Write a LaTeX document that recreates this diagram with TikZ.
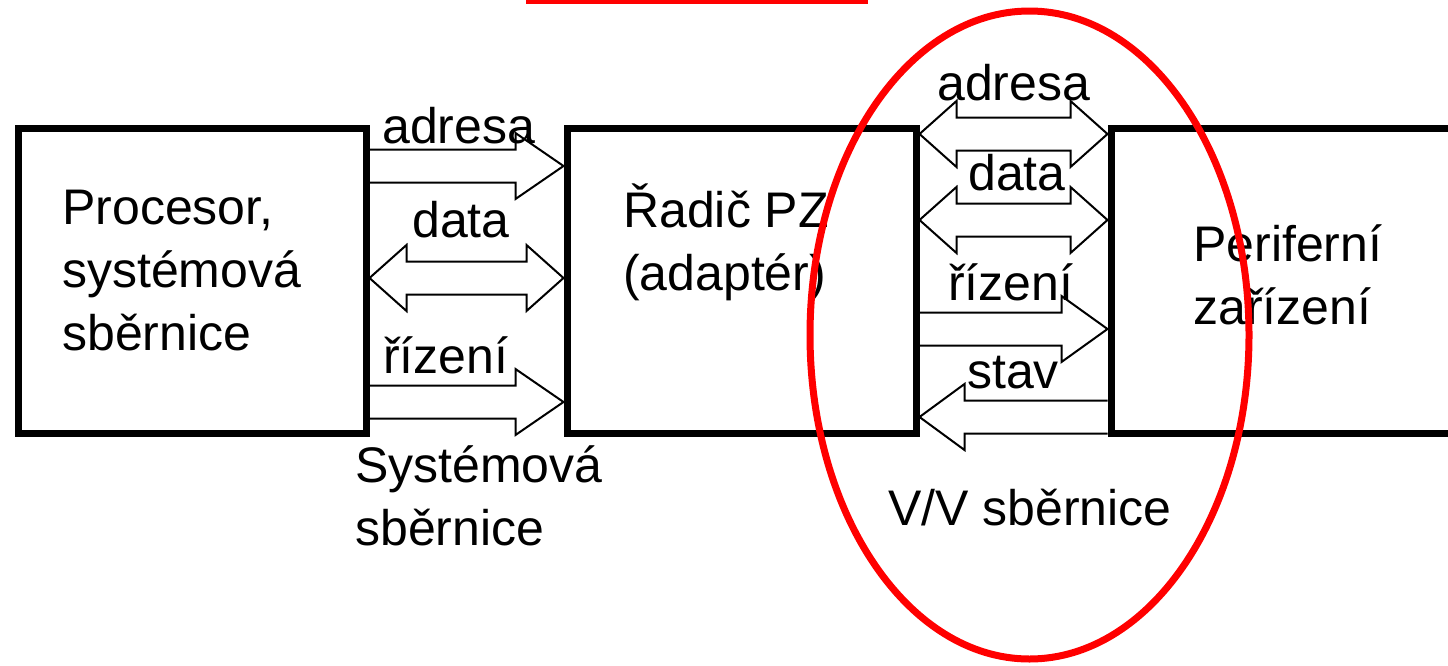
\documentclass[tikz,border=0pt]{standalone}
\usepackage{fontspec}
\setmainfont{Liberation Sans}
\usetikzlibrary{calc}
\newcommand\singlebar[4]{% #1 tail node anchor, #2 tip node anchor, #3 y, #4 head length
  \coordinate (yy) at (0,#3);
  \coordinate (tl) at (#1 |- yy);
  \coordinate (tp) at (#2 |- yy);
  \coordinate (hb) at ($(tp)!#4!(tl)$);
  \draw[barrow] ($(tl)+(0,-16.5)$) -- ($(hb)+(0,-16.5)$) -- ($(hb)+(0,-33)$) -- (tp)
    -- ($(hb)+(0,33)$) -- ($(hb)+(0,16.5)$) -- ($(tl)+(0,16.5)$);
}
\newcommand\doublebar[4]{% #1 left tip node anchor, #2 right tip node anchor, #3 y, #4 head length
  \coordinate (yy) at (0,#3);
  \coordinate (ta) at (#1 |- yy);
  \coordinate (tb) at (#2 |- yy);
  \coordinate (ha) at ($(ta)!#4!(tb)$);
  \coordinate (hc) at ($(tb)!#4!(ta)$);
  \draw[barrow] (ta) -- ($(ha)+(0,-33)$) -- ($(ha)+(0,-16.5)$) -- ($(hc)+(0,-16.5)$)
    -- ($(hc)+(0,-33)$) -- (tb) -- ($(hc)+(0,33)$) -- ($(hc)+(0,16.5)$)
    -- ($(ha)+(0,16.5)$) -- ($(ha)+(0,33)$) -- cycle;
}
\begin{document}
\begin{tikzpicture}[x=1pt,y=-1pt,
  box/.style={draw, line width=7pt, rectangle, anchor=north west, inner sep=0pt, minimum height=305pt},
  barrow/.style={draw, line width=2pt, line join=miter},
  lbl/.style={anchor=base west, inner sep=0pt, align=left, font=\fontsize{50}{63}\selectfont},
  redring/.style={draw=red, line width=7pt}]
\useasboundingbox (0,0) rectangle (1448,665);
\clip (0,0) rectangle (1448,665);

\node[box, minimum width=348pt] (L) at (14.5,124.5) {};
\node[box, minimum width=349pt] (M) at (563.5,124.5) {};
\node[box, minimum width=370pt] (R) at (1107.5,124.5) {};

% multi-line labels: base anchor is the baseline of the last line
\node[lbl] (tL) at (62,350) {Procesor,\\systémová\\sběrnice};
\node[lbl] (tM) at (623,290) {Řadič PZ\\(adaptér)};
\node[lbl] (tR) at (1193,324) {Periferní\\zařízení};

% system bus arrows
\singlebar{L.east}{M.west}{166}{48pt}
\doublebar{L.east}{M.west}{278}{37pt}
\singlebar{L.east}{M.west}{402}{48pt}

% I/O bus arrows
\doublebar{M.east}{R.west}{134}{37pt}
\doublebar{M.east}{R.west}{220}{37pt}
\singlebar{M.east}{R.west}{329}{46pt}
\singlebar{R.west}{M.east}{417}{45pt}

\node[lbl] (la1) at (382,143) {adresa};
\node[lbl] (ld1) at (412,237) {data};
\node[lbl] (lr1) at (383,373) {řízení};
\node[lbl] (lsys) at (355,545) {Systémová\\sběrnice};

\node[lbl] (la2) at (937,100) {adresa};
\node[lbl] (ld2) at (968,190) {data};
\node[lbl] (lr2) at (948,300) {řízení};
\node[lbl] (ls2) at (967,388) {stav};
\node[lbl] (lvv) at (888,525) {V/V sběrnice};

\draw[redring] (526,0) -- (868,0);
\draw[redring] (1029.5,335) ellipse [x radius=219.5, y radius=324];
\end{tikzpicture}
\end{document}
